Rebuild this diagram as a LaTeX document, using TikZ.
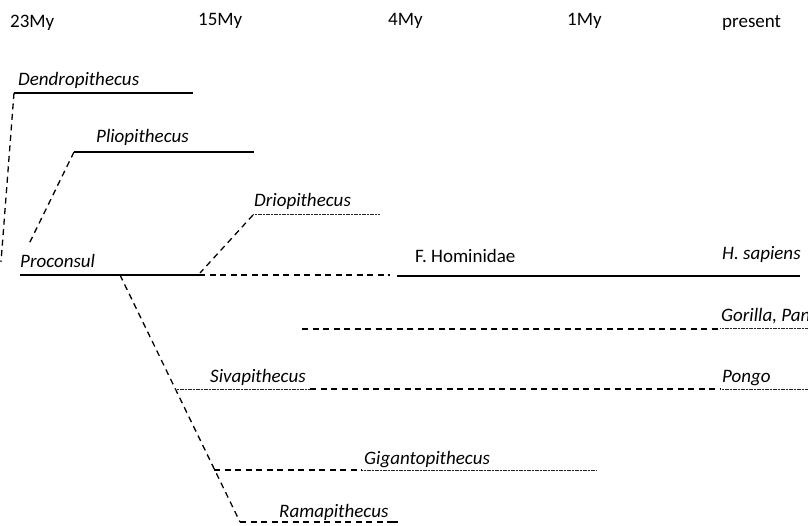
\documentclass[tikz,border=0pt]{standalone}
\usepackage{fontspec}
\setmainfont{Carlito}
\begin{document}
\begin{tikzpicture}[x=1pt,y=-1pt,
  lbl/.style={anchor=base west,inner sep=0pt,font=\fontsize{19}{21}\selectfont},
  taxon/.style={lbl,font=\fontsize{19}{21}\selectfont\itshape},
  solidln/.style={line width=1.3pt},
  fineln/.style={line width=1pt,dash pattern=on 1.2pt off 0.4pt,black!85},
  dashln/.style={line width=1.3pt,dash pattern=on 6pt off 4.5pt}]
\clip (0,0) rectangle (808,526);
\useasboundingbox (0,0) rectangle (808,526);
% time axis labels
\node[lbl] (t23) at (10,28) {23My};
\node[lbl] (t15) at (198,26) {15My};
\node[lbl] (t4) at (388,26) {4My};
\node[lbl] (t1) at (567,26) {1My};
\node[lbl] (tp) at (722,28) {present};
% coordinates
\coordinate (dA) at (14,93);  \coordinate (dB) at (193,93);  \coordinate (dR) at (1,262);
\coordinate (pA) at (74,152); \coordinate (pB) at (254,152); \coordinate (pR) at (28,246);
\coordinate (rA) at (253,215); \coordinate (rB) at (380,215); \coordinate (rR) at (200,273);
\coordinate (cA) at (20,275); \coordinate (cB) at (199,275); \coordinate (cC) at (390,275);
\coordinate (hA) at (397,276); \coordinate (hB) at (800,276);
\coordinate (gA) at (302,329); \coordinate (gB) at (720,329); \coordinate (gC) at (808,329);
\coordinate (xA) at (120,275); \coordinate (xB) at (240,522);
\coordinate (sA) at (175,389); \coordinate (sB) at (310,389); \coordinate (sC) at (720,389); \coordinate (sD) at (808,389);
\coordinate (iA) at (214,470); \coordinate (iB) at (362,470); \coordinate (iC) at (597,470);
\coordinate (mA) at (240,522); \coordinate (mB) at (390,522); \coordinate (mC) at (398,522);
% labels
\node[taxon] (dend) at (18,86) {Dendropithecus};
\node[taxon] (plio) at (96,143) {Pliopithecus};
\node[taxon] (drio) at (254,207) {Driopithecus};
\node[taxon] (proc) at (20,268) {Proconsul};
\node[lbl] (homi) at (415,263) {F. Hominidae};
\node[taxon] (hsap) at (722,260) {H. sapiens};
\node[taxon] (gori) at (721,322) {Gorilla, Pan};
\node[taxon] (siva) at (210,382) {Sivapithecus};
\node[taxon] (pong) at (722,382) {Pongo};
\node[taxon] (giga) at (364,464) {Gigantopithecus};
\node[taxon] (rama) at (279,517) {Ramapithecus};
% lines
\draw[solidln] (dA) -- (dB);
\draw[dashln] (dA) -- (dR);
\draw[solidln] (pA) -- (pB);
\draw[dashln] (pA) -- (pR);
\draw[fineln] (rA) -- (rB);
\draw[dashln] (rA) -- (rR);
\draw[solidln] (cA) -- (cB);
\draw[dashln] (cB) -- (cC);
\draw[solidln] (hA) -- (hB);
\draw[dashln] (gA) -- (gB);
\draw[fineln] (gB) -- (gC);
\draw[dashln] (xA) -- (xB);
\draw[fineln] (sA) -- (sB);
\draw[dashln] (sB) -- (sC);
\draw[fineln] (sC) -- (sD);
\draw[dashln] (iA) -- (iB);
\draw[fineln] (iB) -- (iC);
\draw[dashln] (mA) -- (mB);
\draw[solidln] (mB) -- (mC);
\end{tikzpicture}
\end{document}
